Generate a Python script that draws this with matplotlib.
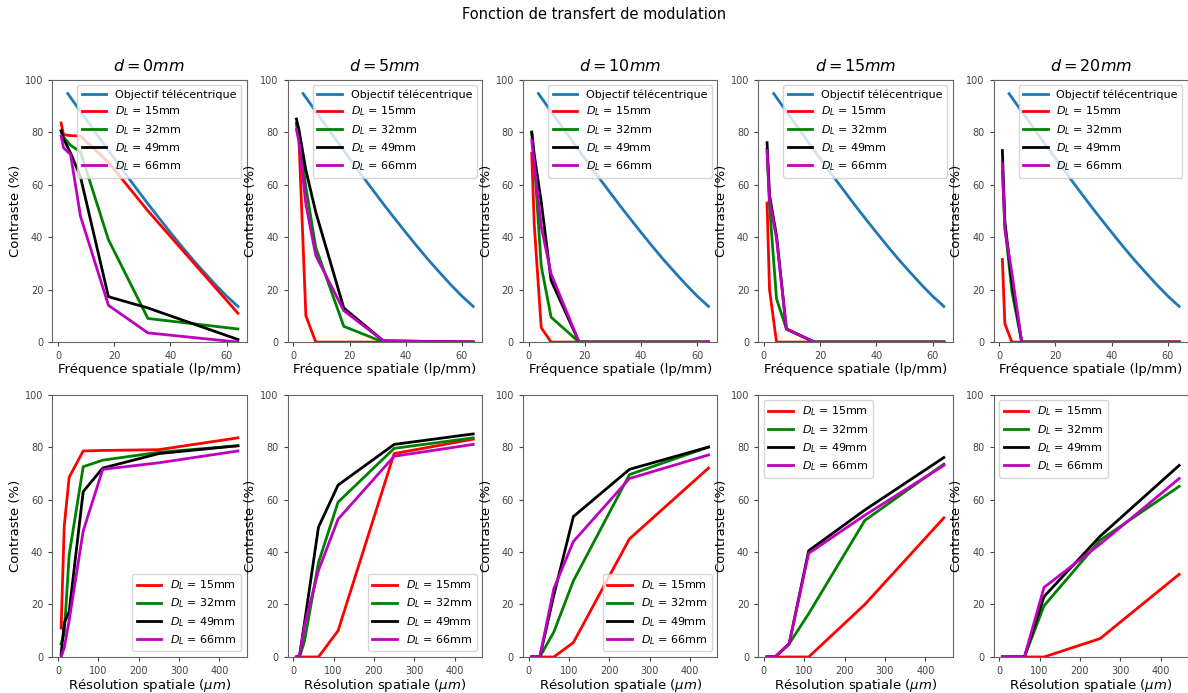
import numpy as np
import matplotlib.pyplot as plt

# distances between object and lens
distances = [0, 5, 10, 15, 20]

# spatial frequencies (lp/mm) and matching spatial resolution (um)
freq = [1.12, 2.0, 4.49, 8.0, 17.96, 32.0, 64.0]
resol = [446, 250, 111, 62.5, 27.8, 15.6, 7.8]

# telecentric objective MTF
tele_freq = [3.5, 8, 12, 16, 20, 24, 28, 32, 36, 40, 44, 48, 52, 56, 60, 64]
tele_c = [94.7, 87.9, 81.9, 75.9, 70.0, 64.1, 58.4, 52.7, 47.2, 41.8, 36.5, 31.4, 26.6, 21.9, 17.5, 13.6]

# contrast (%) per lens diameter, one row per distance d
c15 = [[83.5, 79.0, 78.7, 78.5, 68.5, 50.0, 11.0],
       [83.0, 77.5, 10.0, 0, 0, 0, 0],
       [72.0, 45.0, 5.5, 0, 0, 0, 0],
       [53.0, 20.0, 0, 0, 0, 0, 0],
       [31.5, 7.0, 0, 0, 0, 0, 0]]
c32 = [[80.5, 78.0, 75.0, 72.5, 39.0, 9.0, 5.0],
       [83.5, 79.5, 59.0, 36.0, 6.0, 0, 0],
       [80.0, 69.5, 29.0, 9.5, 0, 0, 0],
       [73.5, 52.0, 16.5, 5.0, 0, 0, 0],
       [65.0, 44.5, 19.5, 0, 0, 0, 0]]
c49 = [[80.5, 77.5, 72.0, 63.0, 17.3, 13.0, 1.0],
       [85.0, 81.0, 65.5, 49.5, 13.0, 0.5, 0],
       [80.0, 71.5, 53.5, 23.5, 0, 0, 0],
       [76.0, 56.0, 40.5, 5.0, 0, 0, 0],
       [73.0, 46.0, 23.0, 0, 0, 0, 0]]
c66 = [[78.5, 74.0, 71.5, 48.0, 14.0, 3.5, 0],
       [81.0, 76.5, 52.5, 33.0, 12.0, 0.5, 0],
       [77.0, 68.0, 44.0, 26.0, 0, 0, 0],
       [73.0, 54.0, 39.5, 5.0, 0, 0, 0],
       [68.0, 43.0, 26.5, 0, 0, 0, 0]]

series = [(c15, 'r', r'$D_L$ = 15mm'),
          (c32, 'g', r'$D_L$ = 32mm'),
          (c49, 'k', r'$D_L$ = 49mm'),
          (c66, 'm', r'$D_L$ = 66mm')]

fig, axes = plt.subplots(2, 5, figsize=(11.88, 6.93), dpi=100)
plt.subplots_adjust(left=0.044, right=1.0, top=0.885, bottom=0.052, wspace=0.21, hspace=0.2)
fig.suptitle('Fonction de transfert de modulation', fontsize=10.5, y=0.99)

leg_kw = dict(fontsize=8, handlelength=2.2, borderpad=0.4, labelspacing=0.4)

for i, d in enumerate(distances):
    # top row: contrast vs frequency
    ax = axes[0, i]
    ax.plot(tele_freq, tele_c, color='#1f77b4', lw=2, label='Objectif télécentrique')
    for data, col, lab in series:
        ax.plot(freq, data[i], color=col, lw=2, label=lab)
    ax.set_title(r'$d = %dmm$' % d, fontsize=11.5)
    ax.set_xlabel('Fréquence spatiale (lp/mm)', fontsize=9.5, labelpad=1)
    ax.set_ylabel('Contraste (%)', fontsize=9.5, labelpad=2)
    ax.set_ylim(0, 100)
    ax.legend(loc='upper right', **leg_kw)

    # bottom row: contrast vs resolution
    ax = axes[1, i]
    for data, col, lab in series:
        ax.plot(resol, data[i], color=col, lw=2, label=lab)
    ax.set_xlabel(r'Résolution spatiale ($\mu m$)', fontsize=9.5, labelpad=1)
    ax.set_ylabel('Contraste (%)', fontsize=9.5, labelpad=2)
    ax.set_ylim(0, 100)
    ax.set_xticks([0, 100, 200, 300, 400])
    loc = 'lower right' if i < 3 else 'upper left'
    ax.legend(loc=loc, **leg_kw)

for ax in axes.flat:
    ax.tick_params(labelsize=7, colors='#444444', length=3)
    for s in ax.spines.values():
        s.set_color('#666666')

plt.savefig('out.png', dpi=100)
